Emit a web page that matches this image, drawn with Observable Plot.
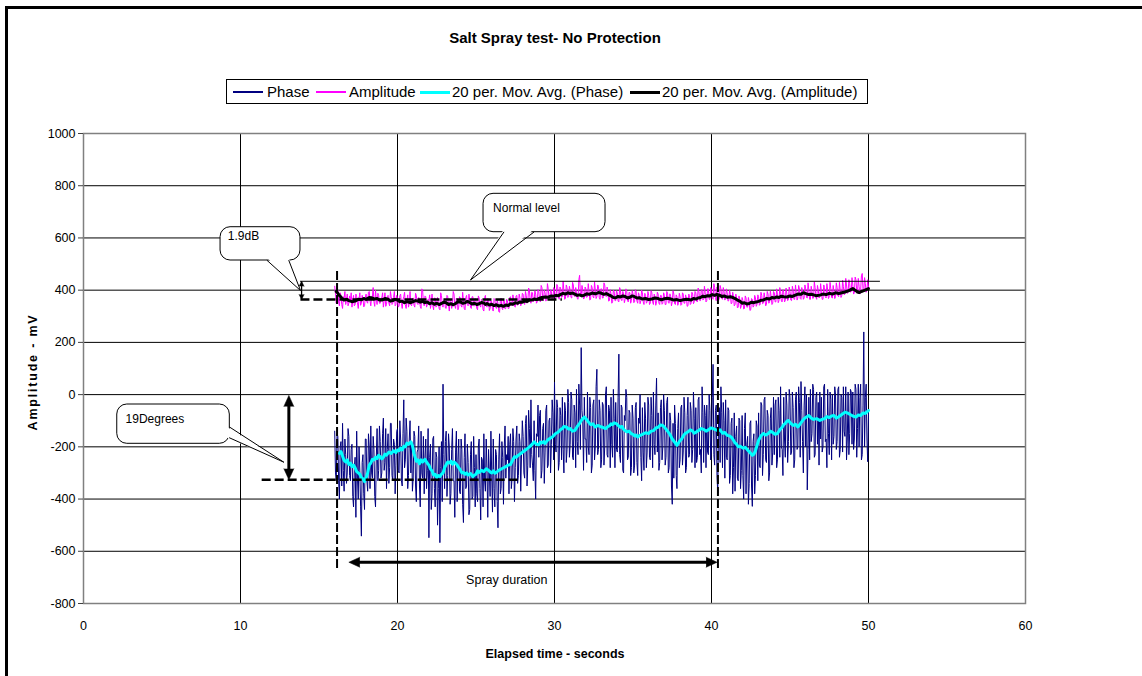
<!DOCTYPE html>
<html><head><meta charset="utf-8">
<script src="https://cdn.jsdelivr.net/npm/d3@7"></script>
<script src="https://cdn.jsdelivr.net/npm/@observablehq/plot@0.6"></script>
<style>
body{margin:0;background:#fff;font-family:"Liberation Sans",Arial,sans-serif;}
#wrap{position:relative;width:1142px;height:676px;overflow:hidden;background:#fff;}
#border{position:absolute;left:5px;top:6px;width:1300px;height:900px;border-left:3px solid #000;border-top:3px solid #000;}
#chart{position:absolute;left:0;top:0;}
.t{position:absolute;white-space:nowrap;color:#000;}
#title{left:0;width:1110px;text-align:center;top:29px;font-weight:bold;font-size:15px;}
#legend{position:absolute;left:226px;top:79px;width:640px;height:23px;border:1px solid #000;background:#fff;}
.sw{position:absolute;height:0;}
.lt{position:absolute;top:3px;font-size:15px;white-space:nowrap;}
#xt{left:0;width:1110px;text-align:center;top:647px;font-weight:bold;font-size:12.5px;}
#yt{left:33px;top:372px;font-weight:bold;font-size:12.5px;letter-spacing:1.8px;transform:translate(-50%,-50%) rotate(-90deg);}
</style></head>
<body>
<div id="wrap">
<div id="border"></div>
<div id="chart"></div>
<div class="t" id="title">Salt Spray test- No Protection</div>
<div id="legend"></div>
<div class="t" id="xt">Elapsed time - seconds</div>
<div class="t" id="yt">Amplitude - mV</div>
</div>
<script>
// ---- data ----
const seriesNames = ["Phase", "Amplitude", "20 per. Mov. Avg. (Phase)", "20 per. Mov. Avg. (Amplitude)"];
const seriesColors = ["#000080", "#ff00ff", "#00ffff", "#000000"];
const xTicks = [0, 10, 20, 30, 40, 50, 60];
const yTicks = [-800, -600, -400, -200, 0, 200, 400, 600, 800, 1000];
const sampleStart = 16.0, sampleStep = 0.05;
const phaseRaw = [
-140,-300,-330,-150,-160,-330,-400,-200,-180,-350,-110,-290,-370,-170,-230,-340,-300,-130,-160,-310,
-330,-210,-190,-390,-430,-280,-240,-470,-140,-320,-400,-200,-290,-430,-542,-260,-230,-380,-440,-170,
-170,-330,-370,-150,-200,-360,-120,-300,-320,-160,-210,-390,-430,-240,-130,-330,-290,-120,-180,-320,
-300,-150,-90,-290,-260,-130,-360,-210,-150,-340,-280,-110,-110,-310,-330,-170,-190,-380,-270,-140,
-130,-290,-300,-100,-170,-330,-350,-150,-20,-280,-250,-90,-140,-360,-310,-170,-100,-300,-180,-370,
-320,-140,-160,-350,-410,-220,-210,-120,-350,-430,-140,-300,-320,-160,-380,-240,-170,-360,-290,-130,
-548,-240,-190,-440,-380,-170,-160,-360,-430,-220,-240,-500,-360,-200,-567,-280,-180,-410,40,-230,
-360,-180,-140,-390,-310,-150,-200,-420,-380,-210,-130,-330,-330,-470,-220,-140,-410,-250,-170,-370,
-380,-170,-210,-420,-490,-240,-150,-360,-350,-190,-260,-460,-440,-230,-180,-400,-390,-160,-280,-430,
-230,-380,-410,-200,-170,-360,-480,-240,-250,-430,-150,-330,-370,-170,-290,-470,-210,-300,-390,-140,
-300,-450,-170,-360,-430,-210,-230,-410,-510,-250,-150,-380,-360,-180,-240,-420,-200,-120,-320,-230,
-250,-160,-380,-190,-150,-360,-320,-130,-180,-410,-280,-170,-120,-340,-310,-150,-180,-370,-230,-100,
-160,-300,-320,-110,-80,-350,-270,-60,-130,-280,-20,-230,-270,-330,-100,-290,-400,-150,-160,-40,
-240,-80,-60,-320,-290,-130,-110,-340,-220,-60,-40,-280,-270,-100,-90,-300,-190,-20,-70,-250,
47,-190,-220,-20,-50,-290,-260,-50,-80,-250,-10,-210,-300,-30,-60,-260,-210,20,-30,-240,
-190,10,-20,-240,-250,-40,-70,-280,20,-180,-230,40,-40,-210,180,-60,-100,-290,-10,-170,
-170,-260,10,-200,-230,-10,-50,-300,-270,-40,-20,-250,-200,30,97,-230,-210,-20,-60,-280,
-250,-30,-40,-270,-200,0,30,-230,-240,-40,-60,-280,-10,-190,-240,20,-90,-280,-30,-210,
-220,-10,155,-230,-260,-40,-50,-290,-300,-80,-100,20,-10,-250,-240,-60,-70,-310,-280,-40,
-90,-300,-270,-50,-30,-260,-310,-90,-110,0,-240,-330,-50,-220,-290,-30,-90,-280,-220,-10,
-40,-240,-250,-10,-80,-280,10,-190,-230,-40,63,-220,-70,-290,-260,-50,-20,-250,-200,0,
-60,-270,-240,-30,-10,-300,-280,-70,-100,-350,-420,-110,-320,-40,-110,-310,-360,-130,-70,-280,
-250,-50,-40,-270,-220,-10,-70,-300,-280,-80,-10,-240,-230,-30,-60,-260,-210,10,-90,-280,
-50,-260,-240,-20,-10,-230,-210,-300,30,-70,-260,-40,-80,-280,-40,-220,-230,0,-60,-250,
-210,-10,116,-230,-270,-60,-40,-310,-377,-100,-50,-260,30,-70,-280,-30,-100,-320,-20,-240,
-250,-50,-60,-340,-310,-110,-90,-380,-280,-70,-370,-160,-120,-320,-330,-90,-100,-360,-290,-80,
-310,-400,-130,-70,-380,-190,-160,-420,-340,-110,-100,-350,-428,-180,-150,-380,-310,-100,-120,-330,
-70,-270,-280,-30,-40,-310,-230,-20,-10,-250,-260,-60,-80,-330,-300,-90,-50,-270,-220,-10,
-230,-40,-20,-280,-250,-10,-60,-240,30,-200,-210,-310,-10,-170,-240,10,-40,-260,-180,20,
-10,-230,-220,10,-50,-280,-250,-20,10,-210,-200,30,-30,-240,50,-60,-180,-300,-40,30,
-200,0,-365,-210,-10,-250,20,-180,-150,40,20,-240,-230,-10,10,-190,-30,-270,10,-170,
-10,-220,-200,30,40,-180,-170,-280,20,-150,-230,10,-20,-250,0,-190,-160,30,0,-210,
-180,20,30,-240,-210,0,-10,-220,30,-140,-160,30,-250,-170,10,-230,-150,20,10,-190,
10,-210,-170,40,20,-240,-130,40,-200,-10,40,-250,-230,-40,240,-200,-10,40,-170,-257,
-70];
const amplitudeRaw = [
415,385,350,372,400,355,340,390,380,345,330,375,370,395,345,360,385,340,350,378,
360,390,335,362,380,340,345,385,375,352,330,368,390,342,350,380,370,336,340,372,
385,355,350,392,395,360,340,376,375,410,355,338,400,365,345,388,380,350,350,370,
370,390,335,360,390,338,345,375,380,350,340,395,375,345,350,372,395,340,345,380,
365,335,340,378,385,350,330,362,375,392,345,330,360,382,335,350,395,345,340,368,
370,342,335,388,380,350,345,372,365,338,330,405,400,352,340,378,375,335,345,365,
360,382,330,348,385,340,325,370,370,335,340,372,355,330,325,390,380,342,335,362,
365,332,330,380,375,345,320,362,360,330,345,395,385,340,330,370,365,325,335,375,
370,340,335,392,360,330,325,372,380,345,340,385,365,335,330,375,375,340,340,368,
360,330,325,378,370,342,335,365,355,325,320,372,380,340,335,368,365,322,330,360,
355,325,320,368,365,335,330,360,350,318,315,358,370,332,325,362,360,328,330,365,
360,330,330,372,375,345,340,382,365,338,335,378,380,342,345,385,370,340,350,388,
385,352,345,395,380,350,355,408,400,362,350,392,390,355,360,398,385,350,355,402,
395,362,355,418,410,372,360,400,390,358,365,425,405,368,370,402,395,362,365,410,
400,368,370,422,415,375,365,412,405,372,375,435,395,365,370,420,410,372,375,415,
400,372,370,430,420,378,375,410,395,368,365,440,457,380,375,418,400,366,370,412,
405,372,375,425,395,362,365,418,410,375,370,432,400,368,375,420,415,372,365,405,
405,370,370,428,420,380,375,412,395,358,360,402,385,350,355,400,395,360,360,398,
390,358,355,410,400,362,360,395,385,352,365,405,395,360,355,392,390,350,360,398,
385,352,355,402,395,358,350,390,380,348,360,400,390,355,345,388,380,350,355,395,
380,345,350,398,390,355,345,385,375,342,355,392,385,350,345,380,380,346,350,390,
380,345,345,395,390,352,350,386,375,340,355,398,385,348,345,382,375,342,350,388,
375,342,345,390,385,350,350,382,370,338,340,385,380,345,350,392,385,348,355,395,
390,358,355,408,395,360,360,402,400,362,365,415,390,355,360,405,405,365,365,410,
400,368,365,425,410,372,360,412,395,360,370,418,405,368,365,410,395,362,370,405,
390,358,360,400,385,348,350,392,375,340,345,385,370,332,335,378,365,330,340,372,
360,328,330,378,370,335,335,372,355,322,325,368,365,335,340,380,370,338,345,382,
375,342,345,392,380,348,350,390,370,340,345,395,385,350,355,398,375,345,350,395,
390,355,355,405,385,352,360,410,395,358,355,402,390,355,360,408,385,360,365,412,
395,362,360,415,400,365,365,420,390,362,370,418,405,368,365,410,395,365,370,420,
405,372,370,428,400,365,365,415,395,368,370,432,410,372,365,418,400,370,375,425,
395,365,365,420,410,375,370,425,400,368,375,430,405,372,370,418,395,368,375,428,
410,378,375,430,400,372,380,438,415,382,385,445,420,388,390,440,425,392,395,448,
420,385,390,450,440,398,395,445,415,385,400,455,464,405,395,448,425,392,400,440,
410];
// moving-average traces: [time, value]
const maPhasePoints = [[16.3,-225],[16.4,-218],[16.5,-235],[16.6,-252],[16.7,-258],[16.8,-250],[16.9,-268],[17.0,-262],[17.1,-276],[17.2,-270],[17.3,-280],[17.4,-295],[17.5,-300],[17.6,-305],[17.7,-318],[17.8,-322],[17.9,-333],[18.0,-318],[18.1,-300],[18.2,-270],[18.3,-262],[18.4,-248],[18.5,-250],[18.6,-240],[18.7,-245],[18.8,-232],[18.9,-238],[19.0,-246],[19.1,-240],[19.2,-228],[19.3,-232],[19.45,-220],[19.6,-225],[19.75,-215],[19.9,-222],[20.0,-212],[20.1,-215],[20.2,-205],[20.3,-212],[20.4,-198],[20.5,-200],[20.6,-186],[20.7,-190],[20.85,-181],[20.95,-195],[21.05,-225],[21.2,-255],[21.3,-250],[21.4,-265],[21.5,-250],[21.6,-258],[21.75,-248],[21.9,-263],[22.0,-270],[22.1,-285],[22.2,-292],[22.3,-308],[22.4,-305],[22.5,-318],[22.6,-310],[22.7,-314],[22.8,-305],[22.9,-300],[23.0,-280],[23.1,-268],[23.2,-258],[23.3,-262],[23.4,-255],[23.5,-266],[23.6,-258],[23.7,-263],[23.8,-270],[23.9,-280],[24.0,-288],[24.1,-300],[24.2,-298],[24.3,-305],[24.4,-300],[24.5,-308],[24.65,-302],[24.8,-314],[24.9,-308],[25.0,-305],[25.1,-292],[25.2,-298],[25.35,-290],[25.5,-295],[25.65,-284],[25.8,-290],[25.9,-296],[26.0,-300],[26.1,-292],[26.2,-301],[26.35,-295],[26.5,-288],[26.7,-282],[26.9,-276],[27.05,-270],[27.2,-268],[27.3,-255],[27.45,-238],[27.55,-240],[27.7,-232],[27.85,-226],[28.0,-219],[28.15,-212],[28.3,-205],[28.4,-200],[28.5,-195],[28.6,-188],[28.7,-181],[28.85,-190],[29.0,-192],[29.1,-182],[29.2,-185],[29.3,-180],[29.4,-187],[29.55,-175],[29.7,-168],[29.9,-160],[30.07,-149],[30.2,-145],[30.3,-140],[30.4,-133],[30.5,-130],[30.6,-122],[30.75,-124],[30.9,-132],[31.0,-130],[31.15,-140],[31.3,-137],[31.45,-122],[31.6,-110],[31.75,-95],[31.9,-86],[32.0,-92],[32.1,-100],[32.2,-108],[32.3,-115],[32.45,-112],[32.6,-124],[32.75,-118],[32.9,-122],[33.1,-126],[33.26,-130],[33.4,-122],[33.5,-120],[33.6,-112],[33.7,-115],[33.8,-108],[33.94,-111],[34.05,-118],[34.2,-125],[34.3,-122],[34.4,-133],[34.5,-138],[34.6,-143],[34.75,-140],[34.9,-150],[35.0,-152],[35.1,-158],[35.2,-155],[35.3,-162],[35.45,-156],[35.6,-152],[35.8,-146],[36.0,-149],[36.15,-140],[36.3,-138],[36.45,-128],[36.6,-125],[36.75,-116],[36.9,-118],[37.05,-128],[37.2,-140],[37.35,-152],[37.5,-170],[37.65,-182],[37.8,-194],[37.95,-180],[38.1,-170],[38.2,-158],[38.3,-150],[38.4,-146],[38.5,-143],[38.65,-135],[38.8,-140],[38.9,-148],[39.0,-145],[39.1,-140],[39.2,-137],[39.35,-130],[39.5,-133],[39.65,-140],[39.8,-135],[39.95,-128],[40.1,-130],[40.25,-134],[40.4,-138],[40.55,-135],[40.7,-148],[40.85,-145],[41.0,-156],[41.15,-158],[41.3,-165],[41.4,-175],[41.5,-185],[41.6,-190],[41.7,-200],[41.85,-198],[42.0,-205],[42.15,-202],[42.3,-212],[42.45,-222],[42.6,-232],[42.7,-228],[42.8,-215],[42.9,-195],[43.0,-175],[43.15,-158],[43.3,-149],[43.45,-155],[43.6,-150],[43.75,-140],[43.9,-145],[44.05,-152],[44.2,-149],[44.35,-135],[44.5,-125],[44.6,-115],[44.7,-110],[44.8,-102],[44.9,-99],[45.05,-110],[45.2,-118],[45.35,-114],[45.5,-124],[45.65,-112],[45.8,-100],[45.9,-92],[46.0,-88],[46.1,-84],[46.2,-80],[46.35,-90],[46.5,-95],[46.7,-92],[46.9,-99],[47.05,-95],[47.2,-92],[47.35,-84],[47.5,-88],[47.65,-82],[47.8,-80],[47.95,-90],[48.1,-85],[48.3,-76],[48.5,-67],[48.65,-70],[48.8,-75],[49.0,-82],[49.2,-86],[49.35,-78],[49.5,-80],[49.65,-70],[49.8,-72],[49.9,-66],[50.0,-61]];
const maAmpPoints = [[16.1,395],[16.2,388],[16.3,380],[16.45,370],[16.6,362],[16.75,365],[16.9,360],[17.1,356],[17.3,358],[17.5,365],[17.7,363],[17.85,368],[18.0,365],[18.2,372],[18.4,370],[18.55,366],[18.7,368],[18.85,362],[19.0,362],[19.2,368],[19.4,365],[19.55,358],[19.7,360],[19.85,365],[20.0,362],[20.15,356],[20.3,358],[20.45,352],[20.6,356],[20.8,352],[20.96,355],[21.15,360],[21.3,358],[21.45,354],[21.6,357],[21.75,352],[21.9,355],[22.05,348],[22.2,352],[22.35,346],[22.5,350],[22.65,345],[22.8,349],[22.95,354],[23.1,352],[23.25,345],[23.4,348],[23.55,344],[23.7,349],[23.85,356],[24.0,355],[24.15,350],[24.3,352],[24.45,357],[24.6,353],[24.75,347],[24.9,350],[25.05,345],[25.2,348],[25.35,353],[25.5,351],[25.6,345],[25.7,349],[25.85,343],[26.0,346],[26.15,341],[26.3,344],[26.45,339],[26.6,342],[26.75,338],[26.9,343],[27.05,341],[27.2,348],[27.35,346],[27.5,352],[27.65,350],[27.8,355],[27.95,354],[28.1,358],[28.25,357],[28.4,362],[28.55,362],[28.7,366],[28.85,364],[29.0,368],[29.2,372],[29.4,374],[29.6,373],[29.8,378],[29.95,377],[30.1,380],[30.25,379],[30.4,384],[30.55,388],[30.7,385],[30.85,390],[31.0,387],[31.15,389],[31.3,385],[31.45,380],[31.6,382],[31.75,378],[31.9,381],[32.05,386],[32.2,384],[32.4,389],[32.6,386],[32.8,391],[33.0,388],[33.15,384],[33.3,387],[33.45,382],[33.6,378],[33.75,372],[33.9,371],[34.05,376],[34.2,374],[34.35,378],[34.5,376],[34.65,370],[34.8,373],[34.95,378],[35.1,375],[35.25,370],[35.4,371],[35.6,366],[35.8,368],[36.0,364],[36.2,366],[36.4,370],[36.6,368],[36.8,363],[37.0,367],[37.2,369],[37.4,366],[37.6,362],[37.8,364],[38.0,360],[38.2,363],[38.45,365],[38.7,362],[38.85,368],[39.0,366],[39.15,370],[39.3,372],[39.45,377],[39.6,375],[39.75,379],[39.9,378],[40.05,383],[40.2,380],[40.35,384],[40.5,381],[40.65,376],[40.8,378],[41.0,373],[41.2,375],[41.35,372],[41.5,368],[41.65,362],[41.8,358],[41.95,350],[42.1,352],[42.25,347],[42.4,349],[42.55,354],[42.7,352],[42.85,355],[43.0,357],[43.15,361],[43.3,362],[43.5,368],[43.7,366],[43.85,372],[44.0,370],[44.15,374],[44.3,372],[44.45,377],[44.6,375],[44.8,374],[45.0,378],[45.15,376],[45.3,380],[45.5,385],[45.7,384],[45.85,390],[46.0,387],[46.2,383],[46.4,384],[46.65,379],[46.9,381],[47.1,385],[47.3,383],[47.5,388],[47.7,385],[47.9,390],[48.1,387],[48.3,390],[48.5,393],[48.75,398],[49.0,406],[49.1,402],[49.2,398],[49.3,393],[49.4,391],[49.55,395],[49.7,398],[49.85,402],[50.0,406]];
// annotations (data units)
const normalLevel = [{y: 434, x1: 13.82, x2: 50.76}];
const dashedLevels = [{y: 364, x1: 13.85, x2: 30.5}, {y: -326, x1: 11.38, x2: 27.83}];
const sprayMarks = [16.15, 40.41];
const sprayMarkRange = [-666, 482];
const thickArrows = [{x1: 16.90, y1: -642, x2: 40.36, y2: -642}, {x1: 13.08, y1: -3, x2: 13.08, y2: -326}];
const thinArrows = [{x1: 13.89, y1: 434, x2: 13.89, y2: 364}];
const callouts = [
  {label: "Normal level", x1: 25.48, x2: 33.25, y1: 622, y2: 769, tx: 26.09, ty: 715},
  {label: "1.9dB", x1: 8.73, x2: 13.82, y1: 513.6, y2: 641.1, tx: 9.19, ty: 605},
  {label: "19Degrees", x1: 2.15, x2: 9.32, y1: -188.4, y2: -37.9, tx: 2.68, ty: -93}
];
const calloutTails = [
  [{x: 26.77, y: 622}, {x: 24.65, y: 439}, {x: 28.68, y: 622}],
  [{x: 11.70, y: 513.6}, {x: 13.82, y: 398.7}, {x: 13.08, y: 513.6}],
  [{x: 9.32, y: -124.9}, {x: 12.76, y: -258.9}, {x: 9.30, y: -165.5}]
];
const calloutTailInner = [
  [{x: 26.77, y: 632}, {x: 24.65, y: 439}, {x: 28.68, y: 632}],
  [{x: 11.70, y: 523}, {x: 13.82, y: 398.7}, {x: 13.08, y: 523}],
  [{x: 9.18, y: -124.9}, {x: 12.76, y: -258.9}, {x: 9.16, y: -165.5}]
];
const sprayLabel = [{x: 26.96, y: -709, text: "Spray duration"}];

// ---- build ----
const phase = phaseRaw.map((v, i) => ({t: sampleStart + i * sampleStep, v}));
const amp = amplitudeRaw.map((v, i) => ({t: sampleStart + i * sampleStep, v}));
const maPhase = maPhasePoints.map(([t, v]) => ({t, v}));
const maAmp = maAmpPoints.map(([t, v]) => ({t, v}));
const heads = [];
for (const a of thickArrows) {
  const horiz = a.y1 === a.y2;
  heads.push({x: a.x1, y: a.y1, r: horiz ? 270 : 0});
  heads.push({x: a.x2, y: a.y2, r: horiz ? 90 : 180});
}
const thinHeads = [];
for (const a of thinArrows) {
  thinHeads.push({x: a.x1, y: a.y1, r: 0});
  thinHeads.push({x: a.x2, y: a.y2, r: 180});
}
const tails = calloutTails.flatMap((pts, k) => pts.map(p => ({...p, k})));
const tailsIn = calloutTailInner.flatMap((pts, k) => pts.map(p => ({...p, k})));

const chart = Plot.plot({
  width: 1142, height: 676,
  marginLeft: 83, marginRight: 117, marginTop: 133, marginBottom: 73,
  x: {domain: [0, 60]},
  y: {domain: [-800, 1000]},
  style: {fontFamily: '"Liberation Sans", Arial, sans-serif', fontSize: "12.5px", background: "transparent", color: "#000", overflow: "visible"},
  marks: [
    Plot.ruleX(xTicks.slice(1, -1), {stroke: "#000", strokeWidth: 1}),
    Plot.ruleY(yTicks.slice(1, -1), {stroke: "#000", strokeWidth: 1}),
    Plot.frame({stroke: "#808080", strokeWidth: 1.5}),
    Plot.axisY(yTicks, {tickSize: 5, tickPadding: 3, stroke: "#404040", fill: "#000", label: null, fontSize: 12.5, tickFormat: d => `${d}`}),
    Plot.axisX(xTicks, {tickSize: 0, tickPadding: 17.5, fill: "#000", label: null, fontSize: 12.5, tickFormat: d => `${d}`}),
    Plot.line(phase, {x: "t", y: "v", stroke: seriesColors[0], strokeWidth: 1}),
    Plot.line(amp, {x: "t", y: "v", stroke: seriesColors[1], strokeWidth: 1}),
    Plot.line(maPhase, {x: "t", y: "v", stroke: seriesColors[2], strokeWidth: 3}),
    Plot.line(maAmp, {x: "t", y: "v", stroke: seriesColors[3], strokeWidth: 3}),
    // annotations
    Plot.ruleY(normalLevel, {y: "y", x1: "x1", x2: "x2", stroke: "#000", strokeWidth: 1}),
    Plot.ruleY(dashedLevels, {y: "y", x1: "x1", x2: "x2", stroke: "#000", strokeWidth: 2.5, strokeDasharray: "9,4"}),
    Plot.ruleX(sprayMarks, {y1: sprayMarkRange[0], y2: sprayMarkRange[1], stroke: "#000", strokeWidth: 2, strokeDasharray: "9,3"}),
    Plot.arrow(thickArrows, {x1: "x1", y1: "y1", x2: "x2", y2: "y2", stroke: "#000", strokeWidth: 3, headLength: 0, insetStart: 6, insetEnd: 6}),
    Plot.vector(heads, {x: "x", y: "y", rotate: "r", shape: "spike", anchor: "end", length: 11, r: 5, fill: "#000", stroke: "#000", strokeWidth: 0.5}),
    Plot.link(thinArrows, {x1: "x1", y1: "y1", x2: "x2", y2: "y2", stroke: "#000", strokeWidth: 1.3}),
    Plot.vector(thinHeads, {x: "x", y: "y", rotate: "r", shape: "spike", anchor: "end", length: 5, r: 2.5, fill: "#000", stroke: "#000", strokeWidth: 0.5}),
    Plot.rect(callouts, {x1: "x1", x2: "x2", y1: "y1", y2: "y2", fill: "#fff", stroke: "#000", strokeWidth: 1, rx: 10}),
    Plot.line(tailsIn, {x: "x", y: "y", z: "k", fill: "#fff", stroke: "none"}),
    Plot.line(tails, {x: "x", y: "y", z: "k", stroke: "#000", strokeWidth: 1}),
    Plot.text(callouts, {x: "tx", y: "ty", text: "label", textAnchor: "start", fontSize: 12, fill: "#000"}),
    Plot.text(sprayLabel, {x: "x", y: "y", text: "text", fontSize: 12.5, fill: "#000"})
  ]
});
document.getElementById("chart").appendChild(chart);

// legend
const legend = document.getElementById("legend");
const swX = [6, 89, 193, 403];
const txX = [40, 122, 225, 435];
const swW = [2, 2, 3, 3];
seriesNames.forEach((name, i) => {
  const s = document.createElement("div");
  s.className = "sw";
  s.style.left = swX[i] + "px";
  s.style.width = "30px";
  s.style.top = (12 - swW[i] / 2) + "px";
  s.style.borderTop = swW[i] + "px solid " + seriesColors[i];
  legend.appendChild(s);
  const t = document.createElement("div");
  t.className = "lt";
  t.style.left = txX[i] + "px";
  t.textContent = name;
  legend.appendChild(t);
});
</script>
</body></html>
